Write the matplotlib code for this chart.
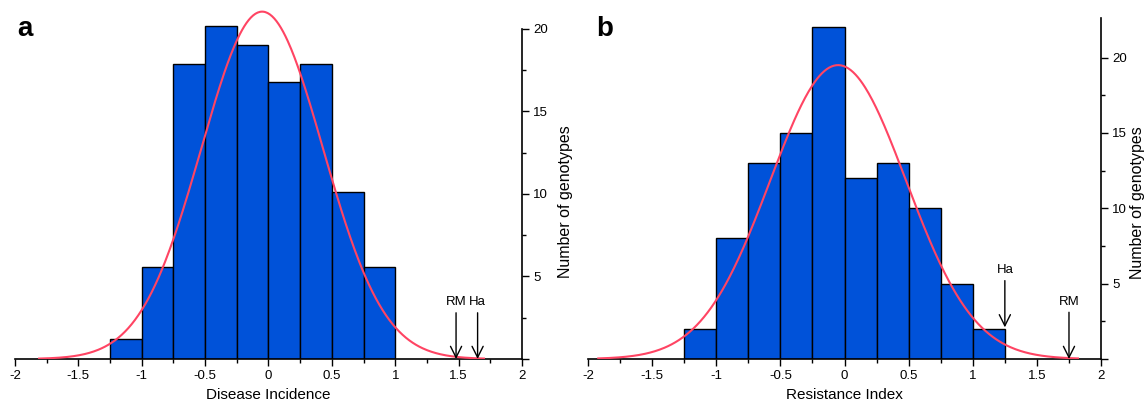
import numpy as np
import matplotlib
matplotlib.use('Agg')
import matplotlib.pyplot as plt

plt.rcParams['font.family'] = ['Liberation Sans', 'DejaVu Sans']
plt.rcParams['axes.unicode_minus'] = False

# histogram bins (left edges, width 0.25) and counts
edges_a = [-1.25, -1.0, -0.75, -0.5, -0.25, 0.0, 0.25, 0.5, 0.75]
counts_a = [1.2, 5.6, 17.9, 20.2, 19.0, 16.8, 17.9, 10.1, 5.6]
edges_b = [-1.25, -1.0, -0.75, -0.5, -0.25, 0.0, 0.25, 0.5, 0.75, 1.0]
counts_b = [2, 8, 13, 15, 22, 12, 13, 10, 5, 2]

# fitted normal curves: mean, sd, peak height, x range
fit_a = dict(mu=-0.05, sd=0.48, peak=21.05, lo=-1.81, hi=1.70)
fit_b = dict(mu=-0.05, sd=0.53, peak=19.5, lo=-1.92, hi=1.82)

# parental markers: label, x, arrow start y, arrow end y
marks_a = [('RM', 1.48, 2.8, 0.0), ('Ha', 1.65, 2.8, 0.0)]
marks_b = [('Ha', 1.25, 5.2, 2.1), ('RM', 1.75, 3.1, 0.0)]

BAR_COLOR = '#0052D9'
CURVE_COLOR = '#FF4463'


def draw_panel(ax, edges, counts, fit, marks, xlabel, ytop, spine_top, ylab_xy):
    ax.bar(edges, counts, width=0.25, align='edge', color=BAR_COLOR,
           edgecolor='black', linewidth=1.0, zorder=2)
    xs = np.linspace(fit['lo'], fit['hi'], 400)
    ys = fit['peak'] * np.exp(-(xs - fit['mu']) ** 2 / (2 * fit['sd'] ** 2))
    ax.plot(xs, ys, color=CURVE_COLOR, linewidth=1.5, zorder=3)

    for name, x, y0, y1 in marks:
        ax.annotate('', xy=(x, y1), xytext=(x, y0),
                    arrowprops=dict(arrowstyle='->', color='black', lw=1.0,
                                    mutation_scale=20, shrinkA=0, shrinkB=0),
                    zorder=4)
        ax.text(x, y0 + 0.3, name, ha='center', va='bottom', fontsize=9.5)

    ax.set_xlim(-2, 2)
    ax.set_ylim(0, ytop)
    ax.spines['top'].set_visible(False)
    ax.spines['left'].set_visible(False)
    ax.spines['right'].set_bounds(0, spine_top)
    ax.spines['bottom'].set_linewidth(1.2)
    ax.spines['right'].set_linewidth(1.2)
    ax.yaxis.tick_right()

    ax.set_xticks([-2, -1.5, -1, -0.5, 0, 0.5, 1, 1.5, 2])
    ax.set_xticklabels(['-2', '-1.5', '-1', '-0.5', '0', '0.5', '1', '1.5', '2'])
    ax.set_xticks(np.arange(-1.75, 2, 0.5), minor=True)
    ax.set_yticks([0, 5, 10, 15, 20])
    ax.set_yticklabels(['', '5', '10', '15', '20'])
    ax.set_yticks([2.5, 7.5, 12.5, 17.5], minor=True)
    ax.tick_params(axis='both', which='major', direction='out', length=5,
                   width=1.0, labelsize=9.5, pad=3)
    ax.tick_params(axis='both', which='minor', direction='out', length=3, width=1.0)

    ax.set_xlabel(xlabel, fontsize=11, labelpad=4)
    ax.text(ylab_xy[0], ylab_xy[1], 'Number of genotypes', rotation=90,
            ha='center', va='center', fontsize=11.5, transform=ax.transAxes)


fig = plt.figure(figsize=(11.48, 4.05), dpi=100)
ax_a = fig.add_axes([0.01307, 0.1136, 0.4416, 0.876])
ax_b = fig.add_axes([0.5122, 0.1136, 0.4469, 0.841])

draw_panel(ax_a, edges_a, counts_a, fit_a, marks_a, 'Disease Incidence',
           21.5, 20, (1.085, 0.443))
draw_panel(ax_b, edges_b, counts_b, fit_b, marks_b, 'Resistance Index',
           22.6, 22.6, (1.071, 0.46))

fig.text(17 / 1148, 1 - 36 / 405, 'a', fontsize=20, fontweight='bold',
         ha='left', va='baseline')
fig.text(596 / 1148, 1 - 36 / 405, 'b', fontsize=20, fontweight='bold',
         ha='left', va='baseline')

fig.savefig('out.png', dpi=100)
